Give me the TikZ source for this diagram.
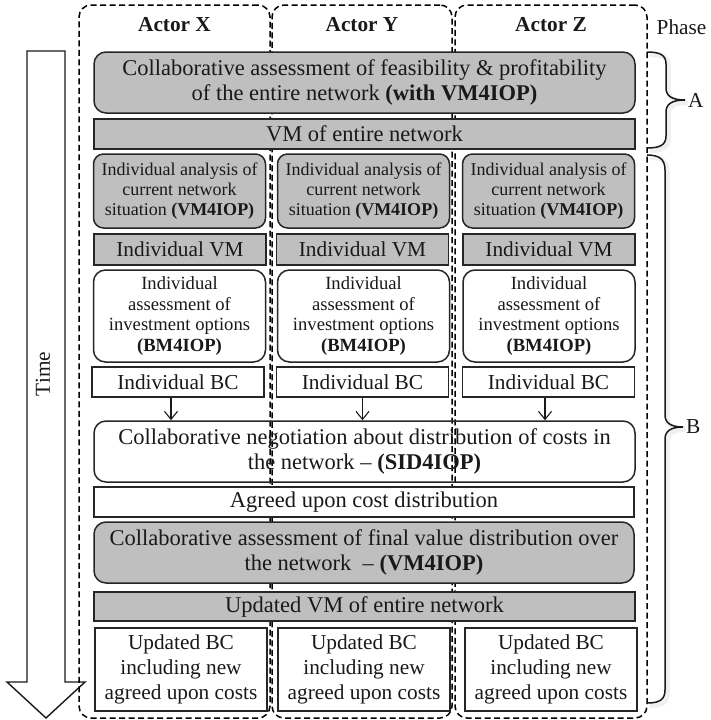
\documentclass[tikz,border=0pt]{standalone}
\usepackage{fontspec}
\setmainfont{Liberation Serif}
\usetikzlibrary{arrows.meta}

\newcommand{\fbig}{\fontsize{22.5}{25}\selectfont}
\newcommand{\fmid}{\fontsize{21.3}{25}\selectfont}
\newcommand{\fsmall}{\fontsize{18}{20}\selectfont}
\newcommand{\fopt}{\fontsize{18.6}{20.5}\selectfont}

\begin{document}
\begin{tikzpicture}[x=1pt,y=-1pt,
  colbox/.style={draw=black, line width=1.5pt, dash pattern=on 6pt off 3.5pt,
    rounded corners=12pt, inner sep=0pt},
  box/.style={draw=black!85, line width=1.5pt, inner sep=0pt, align=center, text=black!90},
  gbox/.style={box, fill=black!25},
  wbox/.style={box, fill=white},
  rnd/.style={rounded corners=12pt},
  flow/.style={draw=black!90, line width=1.1pt, -{Straight Barb[length=8pt,width=13pt]}},
  bracepath/.style={draw=black!90, line width=1.5pt},
  braceshade/.style={draw=black, line width=5pt, opacity=0.06},
  label/.style={inner sep=0pt, text=black!90}
]
\useasboundingbox (0,0) rectangle (711,720);

% time arrow
\draw[black!90, line width=1.4pt, line join=miter]
  (27,51) -- (65,51) -- (65,682) -- (85,682) -- (46,718) -- (7,682) -- (27,682) -- cycle;
\node[label, rotate=90, font=\fmid] (time) at (43,374) {Time};

% actor lanes
\node[colbox, minimum width=191, minimum height=713] (colX) at (174.5,361.5) {};
\node[colbox, minimum width=180, minimum height=713] (colY) at (362,361.5) {};
\node[colbox, minimum width=192, minimum height=713] (colZ) at (551,361.5) {};
\node[label, font=\fmid\bfseries] (actX) at (174.5,25) {Actor X};
\node[label, font=\fmid\bfseries] (actY) at (362,25) {Actor Y};
\node[label, font=\fmid\bfseries] (actZ) at (551,25) {Actor Z};
\node[label, font=\fmid] (phase) at (681.5,27) {Phase};

% phase A
\node[gbox, rnd, minimum width=541, minimum height=61, font=\fbig] (assess) at (364.5,82.5)
  {Collaborative assessment of feasibility \& profitability\\ of the entire network \textbf{(with VM4IOP)}};
\node[gbox, minimum width=541, minimum height=30, font=\fbig] (vmall) at (364.5,134)
  {VM of entire network};

% phase B: individual steps
\foreach \n/\cx in {X/179.5, Y/363.5, Z/548.5} {
  \node[gbox, rounded corners=10pt, minimum width=172, minimum height=74, font=\fsmall] (ana\n) at (\cx,191)
    {Individual analysis of\\ current network\\ situation \textbf{(VM4IOP)}};
}
\foreach \n/\cx in {X/180, Y/362.5, Z/549} {
  \node[gbox, minimum width=172, minimum height=31, font=\fmid] (ivm\n) at (\cx,249.5) {Individual VM};
}
\foreach \n/\cx in {X/179.5, Y/363.5, Z/549} {
  \node[wbox, rnd, minimum width=172, minimum height=92, font=\fopt] (inv\n) at (\cx,316)
    {Individual\\ assessment of\\ investment options\\ \textbf{(BM4IOP)}};
}
\foreach \n/\cx in {X/178, Y/362.5, Z/548.5} {
  \node[wbox, minimum width=172, minimum height=30, font=\fmid] (ibc\n) at (\cx,382) {Individual BC};
}

% collaborative steps
\node[box, rnd, minimum width=541, minimum height=61, font=\fbig] (nego) at (364.5,451.5)
  {Collaborative negotiation about distribution of costs in\\ the network -- \textbf{(SID4IOP)}};
\node[wbox, minimum width=540, minimum height=30, font=\fbig] (agreed) at (364,502)
  {Agreed upon cost distribution};
\node[gbox, rnd, minimum width=540, minimum height=61, font=\fbig] (final) at (364,552.5)
  {Collaborative assessment of final value distribution over\\ the network~~-- \textbf{(VM4IOP)}};
\node[gbox, minimum width=541, minimum height=29, font=\fbig] (vmupd) at (364.5,606.5)
  {Updated VM of entire network};
\foreach \n/\cx in {X/181, Y/364, Z/551} {
  \node[wbox, minimum width=172, minimum height=83, font=\fmid] (ubc\n) at (\cx,669.5)
    {Updated BC\\ including new\\ agreed upon costs};
}

% business cases feed the negotiation
\draw[flow] ([xshift=-7pt]ibcX.south) -- ([xshift=-7pt]ibcX.south |- nego.north);
\draw[flow] (ibcY.south) -- (ibcY.south |- nego.north);
\draw[flow] ([xshift=-3.5pt]ibcZ.south) -- ([xshift=-3.5pt]ibcZ.south |- nego.north);

% phase braces, with a faint shadow
\coordinate (ta) at (685,100);
\coordinate (tb) at (683,427);
\begin{scope}[shift={(2.5,2.5)}]
  \draw[braceshade] (647,52) .. controls (660,52) and (666,55) .. (666,64) -- (666,88)
    .. controls (666,96) and (672,100) .. (685,100) .. controls (672,100) and (666,104) .. (666,112)
    -- (666,136) .. controls (666,145) and (660,148) .. (647,148);
  \draw[braceshade] (647,155) .. controls (659,155) and (665,159) .. (665,170) -- (665,415)
    .. controls (665,423) and (671,427) .. (683,427) .. controls (671,427) and (665,431) .. (665,439)
    -- (665,690) .. controls (665,700) and (659,703) .. (647,703);
\end{scope}
\draw[bracepath] (647,52) .. controls (660,52) and (666,55) .. (666,64) -- (666,88)
  .. controls (666,96) and (672,100) .. (ta) .. controls (672,100) and (666,104) .. (666,112)
  -- (666,136) .. controls (666,145) and (660,148) .. (647,148);
\draw[bracepath] (647,155) .. controls (659,155) and (665,159) .. (665,170) -- (665,415)
  .. controls (665,423) and (671,427) .. (tb) .. controls (671,427) and (665,431) .. (665,439)
  -- (665,690) .. controls (665,700) and (659,703) .. (647,703);
\node[label, font=\fmid, anchor=west] (phA) at ([xshift=3pt]ta) {A};
\node[label, font=\fmid, anchor=west] (phB) at ([xshift=3pt]tb) {B};
\end{tikzpicture}
\end{document}
